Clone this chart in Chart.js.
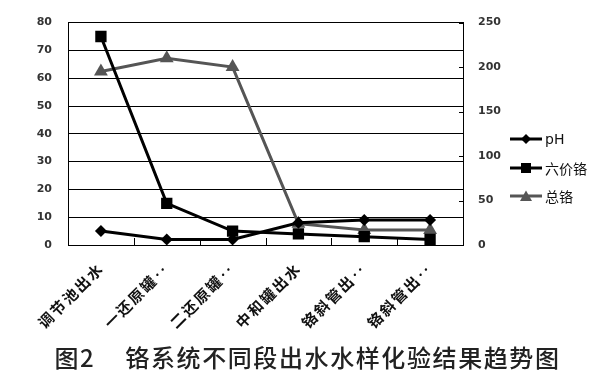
<!DOCTYPE html>
<html>
<head>
<meta charset="utf-8">
<script src="https://cdn.jsdelivr.net/npm/chart.js@4/dist/chart.umd.min.js"></script>
<style>
  html, body { margin: 0; padding: 0; background: #fff; }
  #wrap { position: relative; width: 605px; height: 378px; overflow: hidden; background: #fff; }
  #c { position: absolute; left: 0; top: 0; }
  .leg { position: absolute; left: 510px; height: 20px; display: flex; align-items: center; font-family: "DejaVu Sans", "Noto Sans CJK SC", sans-serif; font-size: 14px; color: #111; }
  .leg canvas { margin-right: 3px; }
  #title { position: absolute; left: 0; width: 605px; top: 341px; padding-left: 10px; box-sizing: border-box; line-height: 32px; text-align: center; font-family: "Noto Sans CJK SC", sans-serif; font-size: 24px; font-weight: 500; color: #222; letter-spacing: 1.6px; white-space: nowrap; }
  #title .gap { display: inline-block; width: 30px; }
</style>
</head>
<body>
<div id="wrap">
  <canvas id="c" width="605" height="378"></canvas>
  <div class="leg" id="leg0" style="top:129px"></div>
  <div class="leg" id="leg1" style="top:158px"></div>
  <div class="leg" id="leg2" style="top:186px"></div>
  <div id="title">图2<span class="gap"></span>铬系统不同段出水水样化验结果趋势图</div>
</div>
<script>
// ---- data ----
const categories = ['调节池出水', '一还原罐‥', '二还原罐‥', '中和罐出水', '铬斜管出‥', '铬斜管出‥'];
const phValues = [5, 2, 2, 8, 9, 9];
const hexCrValues = [75, 15, 5, 4, 3, 2];
const totalCrValues = [195, 210, 200, 24, 17, 17];
const seriesNames = ['pH', '六价铬', '总铬'];
const leftTicks = [0, 10, 20, 30, 40, 50, 60, 70, 80];
const rightTicks = [0, 50, 100, 150, 200, 250];

const tickFont = { family: 'DejaVu Sans', size: 11, weight: 'bold' };

const innerTicks = {
  id: 'innerTicks',
  afterDatasetsDraw(chart) {
    // category labels are drawn after datasets (ticks z = 1); give them wider spacing
    chart.ctx.letterSpacing = '2px';
  },
  afterDraw(chart) {
    const { ctx, chartArea: a, scales } = chart;
    ctx.letterSpacing = '0px';
    const x = scales.x, y1 = scales.y1;
    ctx.save();
    ctx.strokeStyle = '#000';
    ctx.lineWidth = 1;
    ctx.beginPath();
    y1.ticks.forEach((t, i) => {
      const py = Math.round(y1.getPixelForTick(i)) + 0.5;
      ctx.moveTo(a.right - 4, py);
      ctx.lineTo(a.right, py);
    });
    for (let i = 1; i < x.ticks.length; i++) {
      const px = Math.round((x.getPixelForTick(i - 1) + x.getPixelForTick(i)) / 2) + 0.5;
      ctx.moveTo(px, a.bottom - 7);
      ctx.lineTo(px, a.bottom);
    }
    ctx.stroke();
    ctx.restore();
  }
};

const chart = new Chart(document.getElementById('c'), {
  type: 'line',
  data: {
    labels: categories,
    datasets: [
      { label: seriesNames[0], data: phValues, yAxisID: 'y', borderColor: '#000', backgroundColor: '#000',
        borderWidth: 3, pointStyle: 'rectRot', pointRadius: 6, pointBorderWidth: 0, pointBackgroundColor: '#000', tension: 0 },
      { label: seriesNames[1], data: hexCrValues, yAxisID: 'y', borderColor: '#000', backgroundColor: '#000',
        borderWidth: 3, pointStyle: 'rect', pointRadius: 8, pointBorderWidth: 0, pointBackgroundColor: '#000', tension: 0 },
      { label: seriesNames[2], data: totalCrValues, yAxisID: 'y1', borderColor: '#555', backgroundColor: '#555',
        borderWidth: 3, pointStyle: 'triangle', pointRadius: 8, pointBorderWidth: 0, pointBackgroundColor: '#555', tension: 0 }
    ]
  },
  options: {
    responsive: false,
    animation: false,
    devicePixelRatio: 1,
    layout: { padding: { left: 10, right: 102, top: 18, bottom: 0 } },
    plugins: { legend: { display: false }, tooltip: { enabled: false }, title: { display: false } },
    scales: {
      x: {
        type: 'category',
        offset: true,
        grid: { display: false },
        border: { display: true, color: '#000', width: 1 },
        ticks: { z: 1, autoSkip: false, minRotation: 45, maxRotation: 45, padding: 6, color: '#111',
                 font: { family: 'Noto Sans CJK SC', size: 15, weight: 'bold' } },
        afterFit(s) { s.height = 133; }
      },
      y: {
        position: 'left',
        min: 0, max: 80,
        afterBuildTicks(s) { s.ticks = leftTicks.map(v => ({ value: v })); },
        grid: { color: '#000', lineWidth: 1, drawTicks: false },
        border: { display: true, color: '#000', width: 1 },
        ticks: { padding: 16, color: '#333', font: tickFont },
        afterFit(s) { s.width = 58; }
      },
      y1: {
        position: 'right',
        min: 0, max: 250,
        afterBuildTicks(s) { s.ticks = rightTicks.map(v => ({ value: v })); },
        grid: { drawOnChartArea: false, drawTicks: false },
        border: { display: true, color: '#000', width: 1 },
        ticks: { padding: 15, color: '#333', font: tickFont },
        afterFit(s) { s.width = 40; }
      }
    }
  },
  plugins: [innerTicks]
});

// legend (line + marker symbol, real text)
const legendStyles = [
  { color: '#000', shape: 'diamond' },
  { color: '#000', shape: 'square' },
  { color: '#555', shape: 'triangle' }
];
seriesNames.forEach((name, i) => {
  const el = document.getElementById('leg' + i);
  const cv = document.createElement('canvas');
  cv.width = 32; cv.height = 14;
  const g = cv.getContext('2d');
  const st = legendStyles[i];
  g.strokeStyle = st.color; g.fillStyle = st.color; g.lineWidth = 3;
  g.beginPath(); g.moveTo(0, 7); g.lineTo(32, 7); g.stroke();
  g.beginPath();
  if (st.shape === 'diamond') { g.moveTo(16, 2); g.lineTo(21, 7); g.lineTo(16, 12); g.lineTo(11, 7); }
  else if (st.shape === 'square') { g.rect(11, 2, 10, 10); }
  else { g.moveTo(16, 1.5); g.lineTo(22, 12); g.lineTo(10, 12); }
  g.closePath(); g.fill();
  el.appendChild(cv);
  const sp = document.createElement('span');
  sp.textContent = name;
  el.appendChild(sp);
});
</script>
</body>
</html>
